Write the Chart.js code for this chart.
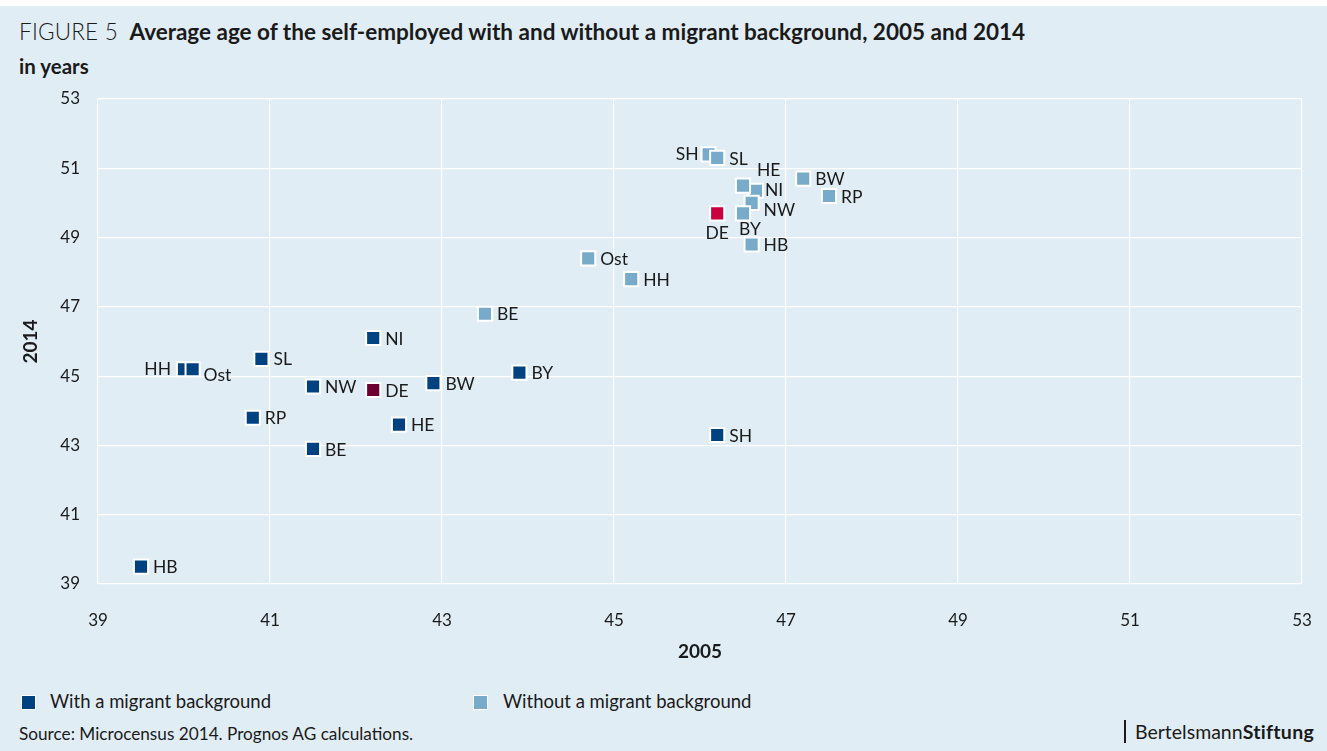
<!DOCTYPE html>
<html>
<head>
<meta charset="utf-8">
<script src="https://cdn.jsdelivr.net/npm/chart.js@4/dist/chart.umd.min.js"></script>
<style>
  html, body { margin: 0; padding: 0; background: #ffffff; }
  body { width: 1327px; height: 751px; position: relative; overflow: hidden; font-family: Lato, "Open Sans", sans-serif; color: #1a1a1a; }
  #panel { position: absolute; left: 0; top: 6px; width: 1327px; height: 745px; background: #e1edf5; }
  #title { position: absolute; left: 19px; top: 18px; font-size: 22.5px; white-space: nowrap; }
  #title .fig { font-weight: 300; letter-spacing: 0.2px; }
  #title b { font-weight: 700; }
  #unit { position: absolute; left: 19px; top: 54px; font-size: 20.5px; font-weight: 700; }
  #chartBox { position: absolute; left: 0; top: 85px; width: 1327px; height: 590px; }
  .leg { position: absolute; top: 690px; font-size: 18.5px; white-space: nowrap; }
  .leg i { position: absolute; top: 5px; width: 13px; height: 13px; border: 1.5px solid #fff; }
  #source { position: absolute; left: 19px; top: 723px; font-size: 17.2px; }
  #brand { position: absolute; left: 1124px; top: 720px; height: 23px; border-left: 2px solid #1a1a1a; padding-left: 9px; font-size: 19.5px; line-height: 23px; white-space: nowrap; }
  #brand b { font-weight: 700; letter-spacing: 0.3px; }
</style>
</head>
<body>
<div id="panel"></div>
<div id="title"><span class="fig">FIGURE 5</span>&nbsp; <b>Average age of the self-employed with and without a migrant background, 2005 and 2014</b></div>
<div id="unit">in years</div>
<div id="chartBox"><canvas id="scatterChart"></canvas></div>
<div class="leg" style="left:50px;"><i style="left:-29px; background:#00427f;"></i>With a migrant background</div>
<div class="leg" style="left:503px;"><i style="left:-30px; background:#78abca;"></i>Without a migrant background</div>
<div id="source">Source: Microcensus 2014. Prognos AG calculations.</div>
<div id="brand">Bertelsmann<b>Stiftung</b></div>

<script>
// ========= Data =========
const withStates = ["HB", "HH", "Ost", "SL", "RP", "NW", "BE", "NI", "DE", "HE", "BW", "BY", "SH"];
const with2005 = [39.5, 40.0, 40.1, 40.9, 40.8, 41.5, 41.5, 42.2, 42.2, 42.5, 42.9, 43.9, 46.2];
const with2014 = [39.5, 45.2, 45.2, 45.5, 43.8, 44.7, 42.9, 46.1, 44.6, 43.6, 44.8, 45.1, 43.3];

const withoutStates = ["SH", "SL", "NI", "HE", "NW", "BY", "HB", "BW", "RP", "Ost", "HH", "BE", "DE"];
const without2005 = [46.1, 46.2, 46.65, 46.5, 46.6, 46.5, 46.6, 47.2, 47.5, 44.7, 45.2, 43.5, 46.2];
const without2014 = [51.4, 51.3, 50.35, 50.5, 50.0, 49.7, 48.8, 50.7, 50.2, 48.4, 47.8, 46.8, 49.7];

const axisTicks = [39, 41, 43, 45, 47, 49, 51, 53];

// ========= Colors =========
const darkBlue = "#00427f";
const lightBlue = "#78abca";
const darkRed = "#6d0032";
const red = "#c8003e";
const textColor = "#1a1a1a";

// label placement per state (dx, dy from marker centre, text align)
const withLabelPos = {
    HH: [-13, 0, "right"], Ost: [11, 6, "left"],
};
const withoutLabelPos = {
    SH: [-10, 0, "right"], HE: [14, -15, "left"], NI: [9, 0, "left"], NW: [12, 7, "left"],
    BY: [7, 16, "center"], DE: [0, 20, "center"],
};

function toPoints(xs, ys) {
    return xs.map((x, i) => ({ x: x, y: ys[i] }));
}

// ========= Point labels =========
const pointLabels = {
    id: "pointLabels",
    afterDatasetsDraw(chart) {
        const ctx = chart.ctx;
        ctx.save();
        ctx.font = "17.5px Lato, sans-serif";
        ctx.fillStyle = textColor;
        ctx.textBaseline = "middle";
        chart.data.datasets.forEach((ds, di) => {
            const meta = chart.getDatasetMeta(di);
            meta.data.forEach((pt, i) => {
                const name = ds.names[i];
                const pos = ds.labelPos[name] || [12, 1, "left"];
                ctx.textAlign = pos[2];
                ctx.fillText(name, pt.x + pos[0], pt.y + pos[1]);
            });
        });
        ctx.restore();
    },
};

// ========= Scatter =========
Chart.defaults.font.family = "Lato, sans-serif";
Chart.defaults.color = textColor;

new Chart(document.getElementById("scatterChart"), {
    type: "scatter",
    data: {
        datasets: [
            {
                label: "With a migrant background",
                names: withStates,
                labelPos: withLabelPos,
                data: toPoints(with2005, with2014),
                backgroundColor: withStates.map(s => (s === "DE" ? darkRed : darkBlue)),
                borderColor: "#ffffff",
                borderWidth: 2,
                pointStyle: "rect",
                pointRadius: 10,
                pointHoverRadius: 10,
            },
            {
                label: "Without a migrant background",
                names: withoutStates,
                labelPos: withoutLabelPos,
                data: toPoints(without2005, without2014),
                backgroundColor: withoutStates.map(s => (s === "DE" ? red : lightBlue)),
                borderColor: "#ffffff",
                borderWidth: 2,
                pointStyle: "rect",
                pointRadius: 10,
                pointHoverRadius: 10,
            },
        ],
    },
    options: {
        responsive: true,
        maintainAspectRatio: false,
        animation: false,
        layout: { autoPadding: false, padding: { top: 14, right: 25, bottom: 0, left: 0 } },
        plugins: {
            legend: { display: false },
            tooltip: { enabled: false },
        },
        scales: {
            x: {
                min: 39,
                max: 53,
                afterBuildTicks: (scale) => { scale.ticks = axisTicks.map(v => ({ value: v })); },
                afterFit: (scale) => {
                    scale.height = 91;
                    scale.paddingLeft = 0;
                    scale.paddingRight = 0;
                },
                border: { display: false },
                grid: { color: "#ffffff", lineWidth: 1.2, drawTicks: false },
                ticks: { padding: 26, font: { size: 17 }, color: textColor },
                title: { display: true, text: "2005", font: { size: 19, weight: "bold" }, color: textColor, padding: { top: 0, bottom: 12 } },
            },
            y: {
                min: 39,
                max: 53,
                afterBuildTicks: (scale) => { scale.ticks = axisTicks.map(v => ({ value: v })); },
                afterFit: (scale) => {
                    scale.width = 98;
                    scale.paddingTop = 0;
                    scale.paddingBottom = 0;
                },
                border: { display: false },
                grid: { color: "#ffffff", lineWidth: 1.2, drawTicks: false },
                ticks: { padding: 18, font: { size: 17 }, color: textColor },
                title: { display: true, text: "2014", font: { size: 19, weight: "bold" }, color: textColor, padding: { top: 19, bottom: 0 } },
            },
        },
    },
    plugins: [pointLabels],
});
</script>
</body>
</html>
